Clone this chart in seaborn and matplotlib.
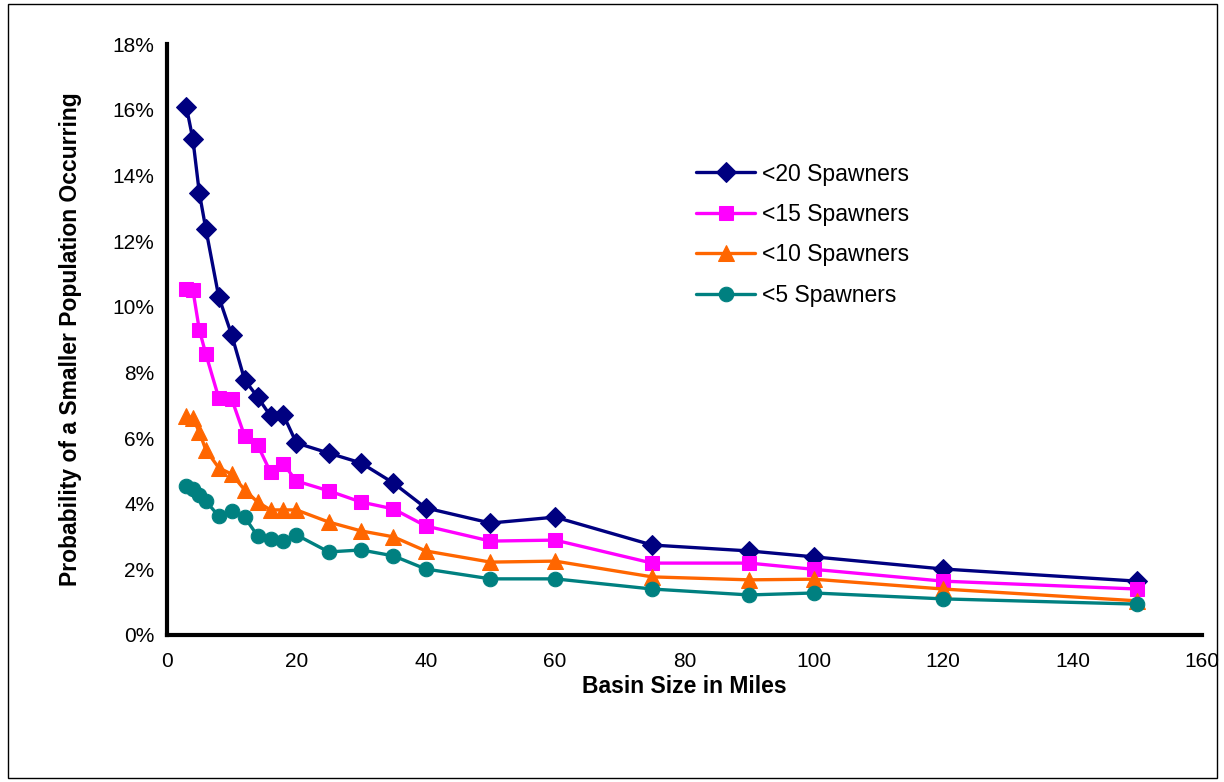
import matplotlib
matplotlib.use("Agg")
import matplotlib.pyplot as plt
import seaborn as sns
import pandas as pd
from matplotlib.ticker import FuncFormatter, MultipleLocator
from matplotlib.patches import Rectangle

basin_miles = [3, 4, 5, 6, 8, 10, 12, 14, 16, 18, 20, 25, 30, 35, 40, 50, 60, 75, 90, 100, 120, 150]

lt20 = [16.08, 15.10, 13.46, 12.37, 10.30, 9.14, 7.77, 7.25, 6.67, 6.70, 5.85, 5.54, 5.24, 4.63,
        3.87, 3.41, 3.59, 2.74, 2.56, 2.38, 2.01, 1.64]
lt15 = [10.54, 10.51, 9.29, 8.56, 7.22, 7.19, 6.06, 5.79, 4.96, 5.21, 4.69, 4.39, 4.05, 3.84,
        3.32, 2.86, 2.89, 2.19, 2.19, 2.00, 1.64, 1.40]
lt10 = [6.67, 6.61, 6.18, 5.64, 5.09, 4.90, 4.42, 4.05, 3.81, 3.81, 3.81, 3.44, 3.17, 2.99,
        2.56, 2.22, 2.25, 1.77, 1.68, 1.70, 1.40, 1.04]
lt5 = [4.54, 4.45, 4.26, 4.08, 3.62, 3.78, 3.59, 3.02, 2.92, 2.86, 3.05, 2.53, 2.59, 2.41,
       2.01, 1.71, 1.71, 1.40, 1.22, 1.28, 1.10, 0.94]

series_names = ["<20 Spawners", "<15 Spawners", "<10 Spawners", "<5 Spawners"]
series_values = [lt20, lt15, lt10, lt5]
colors = ["#000080", "#FF00FF", "#FF6600", "#008080"]
markers = ["D", "s", "^", "o"]
msizes = [10, 10, 11, 10.5]

rows = []
for name, vals in zip(series_names, series_values):
    for x, v in zip(basin_miles, vals):
        rows.append({"Basin": x, "Prob": v / 100.0, "Series": name})
df = pd.DataFrame(rows)

sns.set_style("white")
plt.rcParams["font.family"] = ["Liberation Sans", "DejaVu Sans"]
plt.rcParams["text.color"] = "black"
plt.rcParams["axes.labelcolor"] = "black"

fig = plt.figure(figsize=(12.24, 7.82), dpi=100)
ax = fig.add_axes([167 / 1224, 1 - 635 / 782, (1202 - 167) / 1224, (635 - 44) / 782])

for name, c, m, ms in zip(series_names, colors, markers, msizes):
    sub = df[df["Series"] == name]
    sns.lineplot(data=sub, x="Basin", y="Prob", ax=ax, color=c, marker=m, markersize=ms,
                 markeredgecolor=c, linewidth=2.4, label=name, clip_on=False)

ax.set_xlim(0, 160)
ax.set_ylim(0, 0.18)
ax.xaxis.set_major_locator(MultipleLocator(20))
ax.yaxis.set_major_locator(MultipleLocator(0.02))
ax.yaxis.set_major_formatter(FuncFormatter(lambda v, p: f"{v * 100:.0f}%"))

for s in ["top", "right"]:
    ax.spines[s].set_visible(False)
for s in ["left", "bottom"]:
    ax.spines[s].set_linewidth(3)
    ax.spines[s].set_color("black")

ax.tick_params(axis="both", direction="out", length=5, width=2.5, color="black",
               labelsize=15, labelcolor="black", pad=4)
ax.tick_params(axis="x", pad=7)

ax.set_xlabel("Basin Size in Miles", fontsize=16.5, fontweight="bold", labelpad=3,
              color="black")
ax.set_ylabel("Probability of a Smaller Population Occurring", fontsize=16.5,
              fontweight="bold", labelpad=22, color="black")

leg = ax.legend(loc="upper left", bbox_to_anchor=(0.502, 0.815), frameon=False,
                fontsize=16.5, handlelength=2.6, labelspacing=0.76, handletextpad=0.3,
                borderaxespad=0)
for t in leg.get_texts():
    t.set_color("black")

fig.patches.append(Rectangle((8 / 1224, 4 / 782), (1217 - 8) / 1224, (778 - 4) / 782,
                             transform=fig.transFigure, fill=False, edgecolor="black",
                             linewidth=1))

fig.savefig("out.png", dpi=100, facecolor="white")
